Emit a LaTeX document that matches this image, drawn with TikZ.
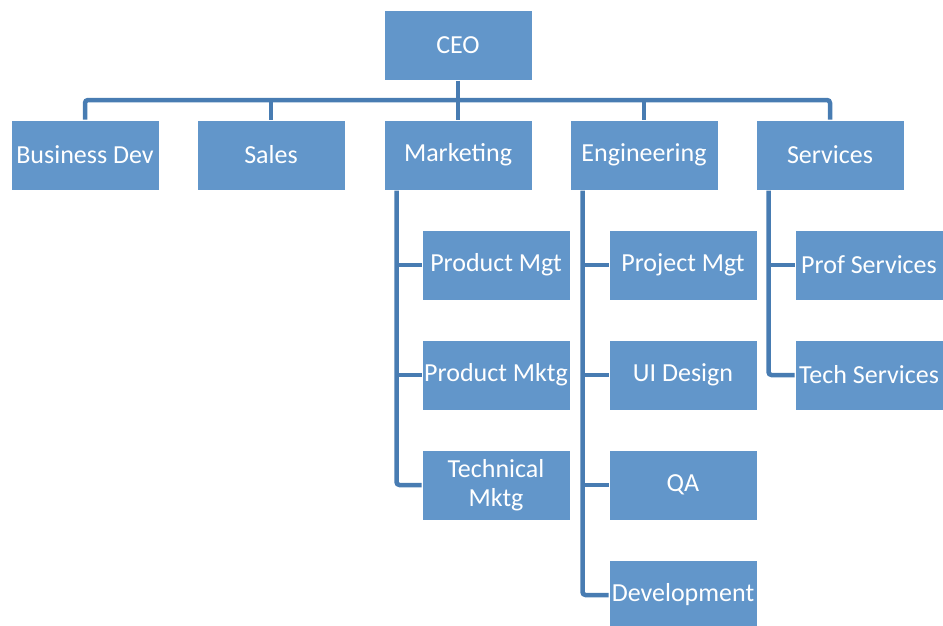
\documentclass[tikz,border=0pt]{standalone}
\usepackage{fontspec}
\setmainfont{Carlito}
\definecolor{boxblue}{RGB}{98,150,202}
\definecolor{lineblue}{RGB}{72,124,178}

\begin{document}
\begin{tikzpicture}[x=1pt, y=-1pt]

\tikzset{
  box/.style={fill=boxblue, draw=white, line width=1pt, minimum width=148pt,
    minimum height=70pt, inner sep=2pt, align=center, text=white,
    font=\fontsize{26}{29}\selectfont},
  conn/.style={draw=lineblue, line width=4.5pt, rounded corners=3pt}
}

\clip (0,0) rectangle (943,625);

% --- Topo ---
\node[box] (ceo) at (458,45) {CEO};

% --- Primeiro nivel ---
\node[box] (bdev) at (85,155)  {Business Dev};
\node[box] (sales) at (271,155) {Sales};
\node[box] (mkt) at (458,155) {Marketing};
\node[box] (eng) at (644,155) {Engineering};
\node[box] (serv) at (830,155) {Services};

% --- Marketing ---
\node[box] (pmgt) at (496,265) {Product Mgt};
\node[box] (pmktg) at (496,375) {Product Mktg};
\node[box] (tmktg) at (496,485) {Technical\\Mktg};

% --- Engineering ---
\node[box] (prmgt) at (683,265) {Project Mgt};
\node[box] (ui) at (683,375) {UI Design};
\node[box] (qa) at (683,485) {QA};
\node[box] (dev) at (683,595) {Development};

% --- Services ---
\node[box] (prof) at (869,265) {Prof Services};
\node[box] (tech) at (869,375) {Tech Services};

% --- Ligacoes ---
\coordinate (bus) at (458,100);
\draw[conn] (ceo.south) -- (bus);
\draw[conn] (bdev.north) |- (bus) -| (serv.north);
\draw[conn] (sales.north) -- (sales.north |- bus);
\draw[conn] (mkt.north) -- (mkt.north |- bus);
\draw[conn] (eng.north) -- (eng.north |- bus);

\draw[conn] ([xshift=13pt]mkt.south west) |- (tmktg.west);
\draw[conn] ([xshift=13pt]mkt.south west |- pmgt.west) -- (pmgt.west);
\draw[conn] ([xshift=13pt]mkt.south west |- pmktg.west) -- (pmktg.west);

\draw[conn] ([xshift=13pt]eng.south west) |- (dev.west);
\draw[conn] ([xshift=13pt]eng.south west |- prmgt.west) -- (prmgt.west);
\draw[conn] ([xshift=13pt]eng.south west |- ui.west) -- (ui.west);
\draw[conn] ([xshift=13pt]eng.south west |- qa.west) -- (qa.west);

\draw[conn] ([xshift=13pt]serv.south west) |- (tech.west);
\draw[conn] ([xshift=13pt]serv.south west |- prof.west) -- (prof.west);

\end{tikzpicture}
\end{document}
